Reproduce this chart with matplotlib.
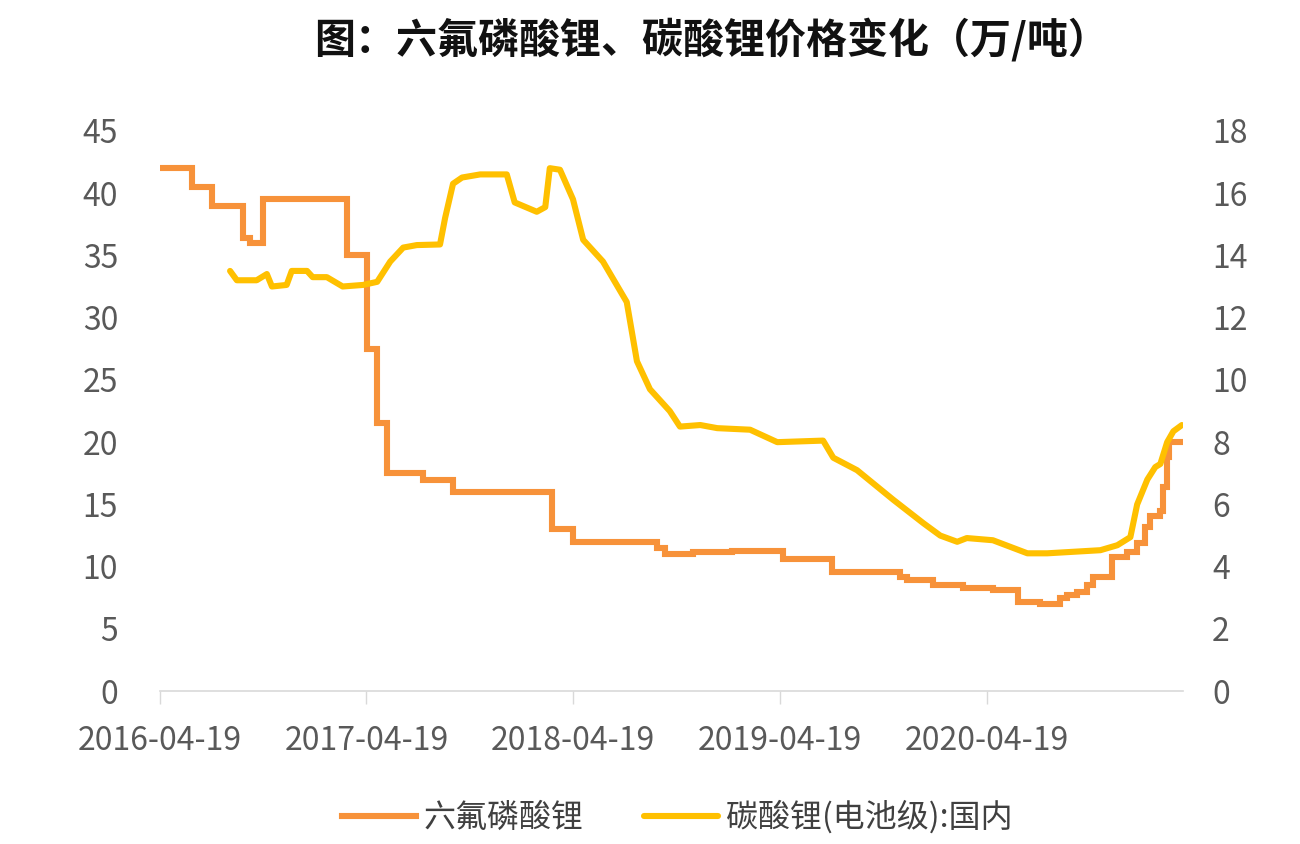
import pandas as pd
import matplotlib.pyplot as plt
import matplotlib.dates as mdates

plt.rcParams['font.family'] = ['Noto Sans CJK SC', 'DejaVu Sans']

# 六氟磷酸锂 (万/吨), left axis, step series
lipf6_dates = ['2016-04-19', '2016-06-15', '2016-07-20', '2016-09-13', '2016-09-25', '2016-10-18',
               '2017-03-16', '2017-04-20', '2017-05-08', '2017-05-25', '2017-07-28', '2017-09-19',
               '2018-03-13', '2018-04-19', '2018-09-14', '2018-09-29', '2018-11-17', '2019-01-25',
               '2019-04-25', '2019-07-21', '2019-11-18', '2019-11-30', '2020-01-15', '2020-03-08',
               '2020-04-30', '2020-06-14', '2020-07-22', '2020-08-27', '2020-09-08', '2020-09-26',
               '2020-10-14', '2020-10-24', '2020-11-27', '2020-12-23', '2021-01-10', '2021-01-24',
               '2021-02-02', '2021-02-20', '2021-02-25', '2021-03-04', '2021-03-07', '2021-04-01']
lipf6_vals = [42, 40.5, 39, 36.4, 36, 39.5,
              35, 27.5, 21.5, 17.5, 17, 16,
              13, 12, 11.5, 11, 11.2, 11.3,
              10.6, 9.6, 9.2, 8.9, 8.5, 8.3,
              8.1, 7.2, 7.0, 7.5, 7.7, 8.0,
              8.5, 9.2, 10.8, 11.2, 11.9, 13.2,
              14.1, 14.5, 16.4, 18.8, 20, 20]

# 碳酸锂(电池级):国内 (万/吨), right axis
li2co3_dates = ['2016-08-21', '2016-09-02', '2016-10-07', '2016-10-25', '2016-11-03', '2016-11-29',
                '2016-12-08', '2017-01-04', '2017-01-14', '2017-02-08', '2017-03-08', '2017-04-13',
                '2017-05-08', '2017-05-31', '2017-06-23', '2017-07-17', '2017-08-27', '2017-09-05',
                '2017-09-19', '2017-10-05', '2017-11-06', '2017-12-23', '2018-01-06', '2018-02-14',
                '2018-03-01', '2018-03-09', '2018-03-27', '2018-04-19', '2018-05-07', '2018-06-11',
                '2018-07-23', '2018-08-10', '2018-09-02', '2018-10-07', '2018-10-25', '2018-11-30',
                '2018-12-30', '2019-02-26', '2019-04-15', '2019-07-05', '2019-07-23', '2019-09-03',
                '2019-11-06', '2019-12-29', '2020-01-28', '2020-02-27', '2020-03-15', '2020-04-30',
                '2020-06-30', '2020-08-04', '2020-11-06', '2020-12-06', '2020-12-29', '2021-01-10',
                '2021-01-28', '2021-02-11', '2021-02-20', '2021-03-04', '2021-03-15', '2021-03-30']
li2co3_vals = [13.5, 13.2, 13.2, 13.4, 13.0, 13.05,
               13.5, 13.5, 13.3, 13.3, 13.0, 13.05,
               13.15, 13.8, 14.25, 14.33, 14.35, 15.2,
               16.3, 16.5, 16.6, 16.6, 15.7, 15.4,
               15.55, 16.8, 16.75, 15.8, 14.5, 13.8,
               12.5, 10.6, 9.7, 9.0, 8.5, 8.55,
               8.45, 8.4, 8.0, 8.05, 7.5, 7.1,
               6.15, 5.4, 5.0, 4.8, 4.92, 4.85,
               4.43, 4.43, 4.53, 4.69, 4.95, 6.0,
               6.8, 7.2, 7.3, 8.0, 8.35, 8.55]

tick_dates = ['2016-04-19', '2017-04-19', '2018-04-19', '2019-04-19', '2020-04-19']

orange = '#F7923A'
yellow = '#FFC000'
gray = '#595959'

fig = plt.figure(figsize=(13, 8.44), dpi=100)
ax = fig.add_axes([0.123, 0.181, 0.787, 0.664])
ax2 = ax.twinx()

l1, = ax.plot(pd.to_datetime(lipf6_dates), lipf6_vals, color=orange, lw=4.4,
              drawstyle='steps-post', solid_joinstyle='miter', label='六氟磷酸锂', zorder=2)
l2, = ax2.plot(pd.to_datetime(li2co3_dates), li2co3_vals, color=yellow, lw=4.4,
               solid_capstyle='round', solid_joinstyle='round', label='碳酸锂(电池级):国内', zorder=3)

ax.set_ylim(0, 45)
ax.set_yticks(range(0, 46, 5))
ax2.set_ylim(0, 18)
ax2.set_yticks(range(0, 19, 2))
ax.set_xlim(pd.Timestamp('2016-04-19'), pd.Timestamp('2021-04-01'))
ax.set_xticks(pd.to_datetime(tick_dates))
ax.xaxis.set_major_formatter(mdates.DateFormatter('%Y-%m-%d'))

for a in (ax, ax2):
    for s in ('top', 'left', 'right'):
        a.spines[s].set_visible(False)
    a.spines['bottom'].set_color('#d9d9d9')
    a.spines['bottom'].set_linewidth(1.2)
ax2.spines['bottom'].set_visible(False)

ax.tick_params(axis='x', length=9, width=1, color='#d9d9d9', labelsize=23, labelcolor=gray, pad=15)
ax.tick_params(axis='y', length=0, labelsize=23, labelcolor=gray, pad=30)
ax2.tick_params(axis='y', length=0, labelsize=23, labelcolor=gray, pad=21)

fig.text(0.547, 0.953, '图：六氟磷酸锂、碳酸锂价格变化（万/吨）', ha='center', va='center',
         fontsize=29.5, fontweight='bold', color='#111111')

fig.legend(handles=[l1, l2], loc='center', bbox_to_anchor=(0.521, 0.032), ncol=2,
           frameon=False, handlelength=2.3, handletextpad=0.25,
           columnspacing=1.9, labelcolor='#404040',
           prop={'family': ['Noto Sans CJK SC', 'DejaVu Sans'], 'size': 23})

fig.savefig('out.png', dpi=100)
